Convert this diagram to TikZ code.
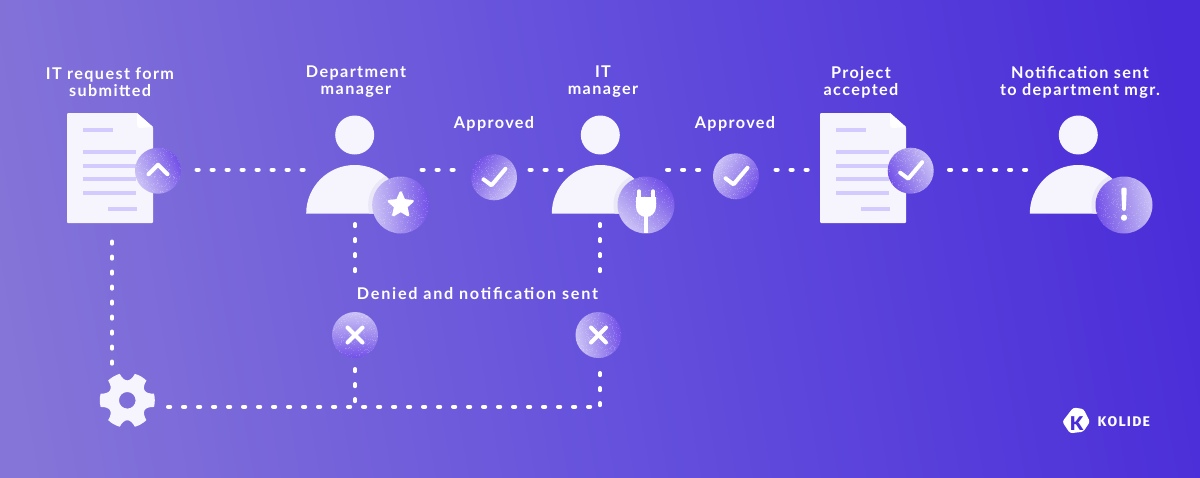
\documentclass[tikz,border=0pt]{standalone}
\usepackage{fontspec}
\setmainfont{Lato}
\newfontfamily\labfont[LetterSpace=8.5]{Lato Bold}
\newfontfamily\labwide[LetterSpace=10.8]{Lato Bold}
\newfontfamily\logofont[LetterSpace=9]{Fira Sans}
\newfontfamily\logok{Lato Black}
\usetikzlibrary{calc}
\definecolor{bgL}{HTML}{8575D8}
\definecolor{bgM}{HTML}{6450DC}
\definecolor{bgR}{HTML}{4A2CD8}
\definecolor{paper}{HTML}{F6F4FD}
\definecolor{rulec}{HTML}{D3CBFD}
\definecolor{shadowc}{HTML}{EAE7F6}
\definecolor{bdgL}{HTML}{CCC2F6}
\definecolor{bdgM}{HTML}{A08CEE}
\definecolor{bdgD}{HTML}{7250E8}
\tikzset{
  lab/.style={text=white,align=center,inner sep=0pt,font=\labfont\fontsize{16.2}{17}\selectfont},
  labw/.style={text=white,align=center,inner sep=0pt,font=\labwide\fontsize{16.2}{17}\selectfont},
  dots/.style={draw=white,line width=4pt,line cap=round,dash pattern=on 2.2pt off 12.8pt},
  glyph/.style={draw=white,line width=4pt,line cap=round,line join=round},
  sheetline/.style={draw=rulec,line width=4pt},
  paperfill/.style={fill=paper,draw=none},
  grain/.style={fill=white,opacity=0.16,draw=none}
}
\pgfmathsetseed{7}
% name, x, y, radius, gradient angle
\newcommand{\badge}[5]{%
  \coordinate (#1) at (#2,#3);
  \shade[top color=bdgL,bottom color=bdgD,middle color=bdgM,shading angle=#5] (#1) circle (#4);
  \begin{scope}
    \clip (#1) circle (#4);
    \foreach \gi in {1,...,260}{
      \pgfmathsetmacro{\gx}{#2+#4*rand}
      \pgfmathsetmacro{\gy}{#3+#4*rand}
      \fill[grain] (\gx,\gy) rectangle ++(1,1);
    }
  \end{scope}
}
\newcommand{\sheet}[3]{% name, x, y (top-left)
  \coordinate (#1) at (#2+43,#3+55);
  \begin{scope}[shift={(#2,#3)}]
    \path[paperfill,rounded corners=1pt] (0,0) -- (70,0) -- (86,14) -- (86,110) -- (0,110) -- cycle;
    \fill[white] (70,0) -- (70,12) .. controls (70,14) and (71,15) .. (73,15) -- (86,14) -- cycle;
    \draw[sheetline] (16,17) -- (46,17);
    \draw[sheetline] (16,39) -- (69,39);
    \draw[sheetline] (16,52.5) -- (69,52.5);
    \draw[sheetline] (16,66) -- (69,66);
    \draw[sheetline] (16,80) -- (69,80);
    \draw[sheetline] (41,96) -- (70,96);
  \end{scope}
}
\newcommand{\person}[5]{% name, x, badge dx, badge y, badge r
  \coordinate (#1) at (#2,165);
  \fill[paper] (#2,135) circle (19.5);
  \fill[paper] (#2-48.5,213.5) arc[start angle=180,end angle=360,radius=48.5] -- cycle;
  \begin{scope}
    \clip (#2-48.5,213.5) arc[start angle=180,end angle=360,radius=48.5] -- cycle;
    \fill[shadowc] (#2+#3,#4) circle (#5+4);
  \end{scope}
}
\begin{document}
\begin{tikzpicture}[x=1pt,y=-1pt]
\useasboundingbox (0,0) rectangle (1200,477);
\begin{scope}
\clip (0,0) rectangle (1200,477);
\shade[left color=bgL,right color=bgR,middle color=bgM,shading angle=100] (-60,-60) rectangle (1260,537);
\end{scope}

% connector ends
\foreach \n/\x/\y in {
  a1/196.5/169.7, a2/306/169.7,
  b1/421.5/169.7, b2/458/169.7,
  c1/529.5/169.7, c2/566/169.7,
  d1/667/169.7, d2/703/169.7,
  e1/775.5/169.7, e2/812/169.7,
  f1/949/169.7, f2/1030/169.7,
  g1/112/241.5, g2/112/368,
  h1/355/224, h2/355/275,
  i1/355/369, i2/355/405,
  j1/600/224, j2/600/275,
  k1/600/373, k2/600/407,
  l1/168/406.7, l2/592/406.7}
  {\coordinate (\n) at (\x,\y);}

\foreach \s/\t in {a1/a2,b1/b2,c1/c2,d1/d2,e1/e2,f1/f2,g1/g2,h1/h2,i1/i2,j1/j2,k1/k2,l1/l2}
  \draw[dots] (\s) -- (\t);

% documents
\sheet{doca}{67}{113}
\sheet{docb}{820}{113}

% people
\person{pa}{354.7}{46}{205}{28.5}
\person{pb}{600.3}{45.7}{205}{28.5}
\person{pc}{1078.3}{45.7}{205}{28.5}

% badges
\badge{up}{158}{170.7}{23}{115}
\draw[glyph] ($(up)+(-9.5,3.5)$) -- ($(up)+(0,-6)$) -- ($(up)+(9.5,3.5)$);

\badge{st}{400.7}{205}{28.5}{95}
\fill[white,draw=white,line width=2.5pt,line join=round]
  ($(st)+(-90:12.5)$)
  -- ($(st)+(-54:5.8)$) -- ($(st)+(-18:12.5)$) -- ($(st)+(18:5.8)$) -- ($(st)+(54:12.5)$)
  -- ($(st)+(90:5.8)$) -- ($(st)+(126:12.5)$) -- ($(st)+(162:5.8)$) -- ($(st)+(198:12.5)$)
  -- ($(st)+(234:5.8)$) -- cycle;

\badge{cka}{494}{177.3}{23}{235}
\draw[glyph] ($(cka)+(-10.5,2)$) -- ($(cka)+(-2.5,8)$) -- ($(cka)+(11.5,-8.5)$);

\badge{pl}{646}{205}{28.5}{135}
\fill[white] ($(pl)+(-10,-8)$) -- ($(pl)+(10,-8)$) -- ($(pl)+(10,2)$)
  .. controls ($(pl)+(10,8)$) and ($(pl)+(5,12)$) .. ($(pl)+(0,12)$)
  .. controls ($(pl)+(-5,12)$) and ($(pl)+(-10,8)$) .. ($(pl)+(-10,2)$) -- cycle;
\draw[white,line width=3.4pt,line cap=round] ($(pl)+(-7,-14)$) -- ($(pl)+(-7,-8)$);
\draw[white,line width=3.4pt,line cap=round] ($(pl)+(7,-14)$) -- ($(pl)+(7,-8)$);
\draw[white,line width=3.2pt] ($(pl)+(0,10)$) -- ($(pl)+(0,28.4)$);

\badge{ckb}{736}{176.3}{23}{60}
\draw[glyph] ($(ckb)+(-10.5,2)$) -- ($(ckb)+(-2.5,8)$) -- ($(ckb)+(11.5,-8.5)$);

\badge{ckc}{910.7}{170.7}{23}{295}
\draw[glyph] ($(ckc)+(-10.5,2)$) -- ($(ckc)+(-2.5,8)$) -- ($(ckc)+(11.5,-8.5)$);

\badge{ex}{1124}{205}{28.5}{280}
\fill[white,rounded corners=2pt] ($(ex)+(-2.8,-17.5)$) -- ($(ex)+(2.8,-17.5)$) -- ($(ex)+(1.8,6)$) -- ($(ex)+(-1.8,6)$) -- cycle;
\fill[white] ($(ex)+(0,12.7)$) circle (3.1);

\badge{xa}{355}{335}{23}{0}
\draw[glyph] ($(xa)+(-7.5,-7.5)$) -- ($(xa)+(7.5,7.5)$);
\draw[glyph] ($(xa)+(-7.5,7.5)$) -- ($(xa)+(7.5,-7.5)$);

\badge{xb}{598.5}{335}{23}{100}
\draw[glyph] ($(xb)+(-7.5,-7.5)$) -- ($(xb)+(7.5,7.5)$);
\draw[glyph] ($(xb)+(-7.5,7.5)$) -- ($(xb)+(7.5,-7.5)$);

% gear
\coordinate (gear) at (127.3,400.3);
\fill[paper,even odd rule]
  ($(gear)+(-14:27.5)$)
  \foreach \k in {0,...,5}{
    arc[start angle=\k*60-14,end angle=\k*60+14,radius=27.5]
    .. controls ($(gear)+(\k*60+21:18)$) and ($(gear)+(\k*60+39:18)$) .. ($(gear)+(\k*60+46:27.5)$)
  } -- cycle
  (gear) circle (8.3);

% labels
\node[lab] (t1) at (110,82) {IT request form\\submitted};
\node[lab] (t2) at (356,82) {Department\\manager};
\node[lab] (t3) at (603,82) {IT\\manager};
\node[lab] (t4) at (861,82) {Project\\accepted};
\node[lab] (t5) at (1080,82) {Notification sent\\to department mgr.};
\node[lab] (t6) at (494,123.5) {Approved};
\node[lab] (t7) at (735,123.5) {Approved};
\node[labw] (t8) at (477.5,293.5) {Denied and notification sent};

% logo
\coordinate (logo) at (1076.7,423.5);
\fill[white,rounded corners=2.5pt] (1073.3,407.5) -- (1083.5,409) -- (1090,421.7) -- (1083.3,431.7) -- (1070,433.3) -- (1062.3,421.7) -- cycle;
\node[inner sep=0pt,text=bgR,font=\logok\fontsize{19}{19}\selectfont] (logok) at (logo) {K};
\node[inner sep=0pt,anchor=west,text=white,font=\logofont\fontsize{14}{14}\selectfont\bfseries] (logot) at (1097.5,421.5) {KOLIDE};
\end{tikzpicture}
\end{document}
